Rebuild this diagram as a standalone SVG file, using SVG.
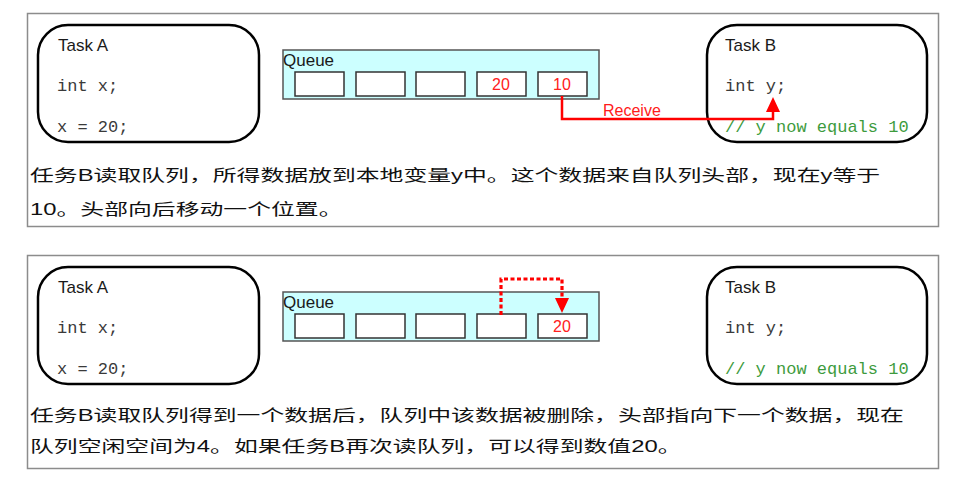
<svg xmlns="http://www.w3.org/2000/svg" width="956" height="486" viewBox="0 0 956 486">
<defs>
<style>
.panel{fill:#fff;stroke:#8c8c8c;stroke-width:1.5}
.task{fill:#fff;stroke:#000;stroke-width:2.5}
.title{font-family:"Liberation Sans",Arial,sans-serif;font-size:17px;fill:#1a1a1a}
.code{font-family:"Liberation Mono","Courier New",monospace;font-size:17px;fill:#3a3a3a}
.cmt{font-family:"Liberation Mono","Courier New",monospace;font-size:17px;fill:#3d9b3d}
.queue{fill:#ccffff;stroke:#555;stroke-width:1.5}
.cell{fill:#fff;stroke:#333;stroke-width:1.5}
.num{font-family:"Liberation Sans",Arial,sans-serif;font-size:16px;fill:#ff2020;text-anchor:middle}
.red{font-family:"Liberation Sans",Arial,sans-serif;font-size:16px;fill:#ff1a1a}
.cn{font-family:"Liberation Sans","Noto Sans CJK SC",sans-serif;font-size:16px;fill:#111}
.conn{fill:none;stroke:#ff0000;stroke-width:2.5}
.dash{fill:none;stroke:#ff0000;stroke-width:3.2;stroke-dasharray:4 2.5}
</style>
<marker id="ah" markerWidth="14" markerHeight="16" refX="7" refY="15" orient="0" markerUnits="userSpaceOnUse" viewBox="0 0 14 16">
<path d="M0,15 L7,0 L14,15 Z" fill="#ff0000"/>
</marker>
<marker id="ahd" markerWidth="14" markerHeight="16" refX="7" refY="0" orient="0" markerUnits="userSpaceOnUse" viewBox="0 0 14 16">
<path d="M0,0 L7,15 L14,0 Z" fill="#ff0000"/>
</marker>
</defs>
<rect width="956" height="486" fill="#fff"/>

<!-- Panel 1 -->
<g id="panel1">
<rect class="panel" x="27.5" y="13.5" width="911" height="213"/>
</g>
<g id="taskA1">
<rect class="task" x="38" y="25" width="221" height="117" rx="30" ry="30"/>
<text class="title" x="58" y="51">Task A</text>
<text class="code" x="57" y="91">int x;</text>
<text class="code" x="57" y="132">x = 20;</text>
</g>
<g id="queue1">
<rect class="queue" x="283" y="50" width="316" height="49"/>
<text class="title" x="283" y="66">Queue</text>
<rect class="cell" x="295" y="72" width="49" height="24"/>
<rect class="cell" x="356" y="72" width="49" height="24"/>
<rect class="cell" x="416" y="72" width="49" height="24"/>
<rect class="cell" x="477" y="72" width="49" height="24"/>
<rect class="cell" x="538" y="72" width="49" height="24"/>
<text class="num" x="501" y="90">20</text>
<text class="num" x="562" y="90">10</text>
</g>
<g id="taskB1">
<rect class="task" x="707" y="25" width="220" height="117" rx="30" ry="30"/>
<text class="title" x="725" y="51">Task B</text>
<text class="code" x="725" y="91">int y;</text>
<text class="cmt" x="725" y="132">// y now equals 10</text>
</g>
<g id="connectors1">
<path class="conn" d="M562,96 V119 H773 V112" marker-end="url(#ah)"/>
<text class="red" x="603" y="116">Receive</text>
</g>
<g id="caption1">
<text class="cn" transform="translate(30,181) scale(1.49,1)">任务B读取队列，所得数据放到本地变量y中。这个数据来自队列头部，现在y等于</text>
<text class="cn" transform="translate(30,215) scale(1.49,1)">10。头部向后移动一个位置。</text>
</g>

<!-- Panel 2 -->
<g id="panel2">
<rect class="panel" x="27.5" y="255.5" width="911" height="213"/>
</g>
<g id="taskA2">
<rect class="task" x="38" y="267" width="221" height="117" rx="30" ry="30"/>
<text class="title" x="58" y="293">Task A</text>
<text class="code" x="57" y="333">int x;</text>
<text class="code" x="57" y="374">x = 20;</text>
</g>
<g id="queue2">
<rect class="queue" x="283" y="292" width="316" height="49"/>
<text class="title" x="283" y="308">Queue</text>
<rect class="cell" x="295" y="314" width="49" height="24"/>
<rect class="cell" x="356" y="314" width="49" height="24"/>
<rect class="cell" x="416" y="314" width="49" height="24"/>
<rect class="cell" x="477" y="314" width="49" height="24"/>
<rect class="cell" x="538" y="314" width="49" height="24"/>
<text class="num" x="562" y="332">20</text>
</g>
<g id="taskB2">
<rect class="task" x="707" y="267" width="220" height="117" rx="30" ry="30"/>
<text class="title" x="725" y="293">Task B</text>
<text class="code" x="725" y="333">int y;</text>
<text class="cmt" x="725" y="374">// y now equals 10</text>
</g>
<g id="connectors2">
<path class="dash" d="M501,315 V279 H562 V298" marker-end="url(#ahd)"/>
</g>
<g id="caption2">
<text class="cn" transform="translate(30,421) scale(1.49,1)">任务B读取队列得到一个数据后，队列中该数据被删除，头部指向下一个数据，现在</text>
<text class="cn" transform="translate(30,452) scale(1.49,1)">队列空闲空间为4。如果任务B再次读队列，可以得到数值20。</text>
</g>
</svg>
